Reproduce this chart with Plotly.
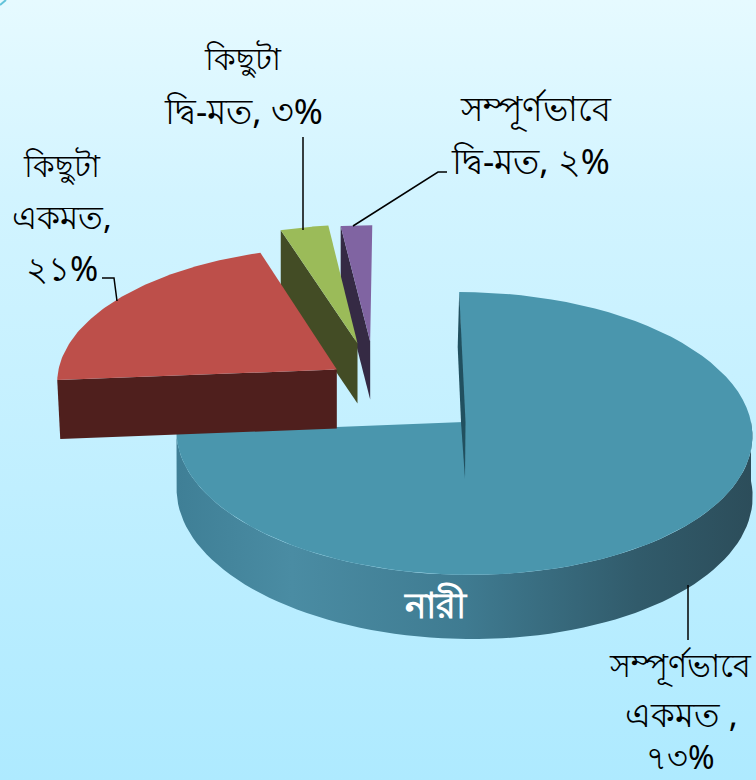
import plotly.graph_objects as go
import numpy as np

# ---- data ----
categories = ["সম্পূর্ণভাবে একমত", "কিছুটা একমত", "কিছুটা দ্বি-মত", "সম্পূর্ণভাবে দ্বি-মত"]
values = [73, 21, 3, 2]
percent_labels = ["৭৩%", "২১%", "৩%", "২%"]
title_text = "নারী"

# ---- camera: disc units -> screen pixels ----
CX, CY, VX, SX, SY, PERSP = 464, 422, 400, 287, 140.5, 0.081


def project(X, Y):
    w = 1 + PERSP * Y
    return VX + (CX - VX + SX * X) / w, CY - SY * Y / w, w


def sector(a0, a1, ex, ey, R, n=80):
    t = np.radians(np.linspace(a0, a1, n))
    return ex + R * np.sin(t), ey + R * np.cos(t)


def poly(xs, ys, color=None, grad=None):
    tr = dict(x=list(xs) + [xs[0]], y=list(ys) + [ys[0]], mode="lines", fill="toself",
              line=dict(width=0), hoverinfo="skip", showlegend=False)
    if grad:
        tr["fillgradient"] = dict(type="horizontal", colorscale=grad)
    else:
        tr["fillcolor"] = color
    return go.Scatter(**tr)


total = sum(values)
edges = np.cumsum([0] + values) / total * 360

styles = [
    dict(top="#4a96ad", wall="#2b4a57", ex=0.0, ey=0.0, R=1.0, depth=59),
    dict(top="#bd4f4a", wall="#4f1f1d", ex=-0.45, ey=0.385, R=1.0, depth=59),
    dict(top="#9bbb59", wall="#434c25", ex=-0.378, ey=0.585, R=1.0, depth=60),
    dict(top="#8064a2", wall="#352a44", ex=-0.332, ey=0.60, R=0.98, depth=58),
]

fig = go.Figure()

# background
fig.add_trace(go.Scatter(x=[0, 756, 756, 0, 0], y=[0, 0, 780, 780, 0], mode="lines", fill="toself",
                         line=dict(width=0), hoverinfo="skip", showlegend=False,
                         fillgradient=dict(type="vertical", colorscale=[[0, "#aeeaff"], [0.75, "#d2f4ff"], [1, "#e6faff"]])))
fig.add_trace(go.Scatter(x=[0, 6], y=[5, 0], mode="lines", line=dict(color="#62c3da", width=2),
                         hoverinfo="skip", showlegend=False))

# blue slice: outer wall first
st = styles[0]
X, Y = sector(90, edges[1], 0, 0, 1)
sx, sy, w = project(X, Y)
bx = sx + (1 - w) * 30
by = sy + st["depth"] / w
fig.add_trace(poly(np.r_[sx, bx[::-1]], np.r_[sy, by[::-1]],
                   grad=[[0, "#3f7f96"], [0.2, "#4a8ca3"], [0.5, "#3f7b91"], [0.8, "#315b6b"], [1, "#2c4d5a"]]))
X, Y = sector(edges[0], edges[1], 0, 0, 1)
sx, sy, w = project(X, Y)
ax, ay, aw = project(0, 0)
fig.add_trace(poly(np.r_[ax, sx], np.r_[ay, sy], st["top"]))
# thin seam of the first edge
s0, t0 = sx[0], sy[0]
fig.add_trace(poly([s0, s0 - 1.5, ax - 3, ax + 1, ax + 1.5, s0 + 2.5],
                   [t0, t0 + 55, ay, ay + st["depth"] - 2, ay, t0 + 55], "#21505f"))

# exploded slices: wall then top
for i in (3, 2, 1):
    st = styles[i]
    X, Y = sector(edges[i], edges[i + 1], st["ex"], st["ey"], st["R"])
    sx, sy, w = project(X, Y)
    ax, ay, aw = project(st["ex"], st["ey"])
    d = st["depth"]
    fig.add_trace(poly([sx[0], ax, ax, sx[0] + (3 if i == 1 else 0)], [sy[0], ay, ay + d, sy[0] + d], st["wall"]))
    fig.add_trace(poly(np.r_[ax, sx], np.r_[ay, sy], st["top"]))

# leader lines
leaders = [([688, 688], [585, 640]), ([117, 114, 102], [301, 278, 278]),
           ([303, 303], [137, 230]), ([353, 438, 447], [226, 172, 172])]
for lx, ly in leaders:
    fig.add_trace(go.Scatter(x=lx, y=ly, mode="lines", line=dict(color="#000000", width=1.5),
                             hoverinfo="skip", showlegend=False))

FONT = "Noto Sans, sans-serif"
label_lines = [
    (680, 665, 32, "সম্পূর্ণভাবে"), (681, 714, 34, "একমত ,"), (680, 756, 32, percent_labels[0]),
    (62, 165, 31, "কিছুটা"), (62, 216, 33, "একমত,"), (62, 268, 34, percent_labels[1]),
    (243, 58, 31, "কিছুটা"), (243, 110, 35, "দ্বি-মত, " + percent_labels[2]),
    (536, 108, 34, "সম্পূর্ণভাবে"), (530, 160, 35, "দ্বি-মত, " + percent_labels[3]),
]
for x, y, size, t in label_lines:
    fig.add_annotation(x=x, y=y, text=t, showarrow=False, xref="x", yref="y",
                       font=dict(family=FONT, size=size, color="#000000"))
fig.add_annotation(x=435, y=604, text="<b>" + title_text + "</b>", showarrow=False,
                   font=dict(family=FONT, size=36, color="#ffffff"))

fig.update_layout(width=756, height=780, margin=dict(l=0, r=0, t=0, b=0),
                  paper_bgcolor="#c8f1ff", plot_bgcolor="#c8f1ff",
                  xaxis=dict(range=[0, 756], visible=False, fixedrange=True),
                  yaxis=dict(range=[780, 0], visible=False, fixedrange=True))
fig.write_html("out.html", config=dict(displayModeBar=False),
               post_script="document.body.style.margin='0';document.body.style.overflow='hidden';")
